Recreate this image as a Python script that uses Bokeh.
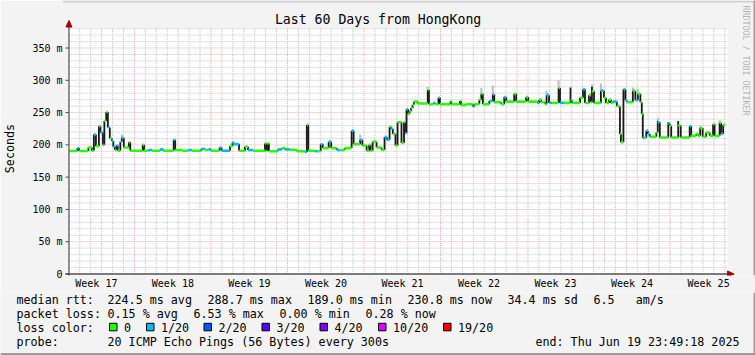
import math
from bokeh.plotting import figure
from bokeh.layouts import column
from bokeh.models import Range1d, FixedTicker, ColumnDataSource
from bokeh.core.properties import value
from bokeh.embed import file_html
from bokeh.resources import INLINE

# ---------------- data ----------------
title_text = "Last 60 Days from HongKong"

# step series: start day of each step (days since start), median rtt (ms), lost pings of 20
day = [
    0.00, 0.73, 0.87, 1.73, 2.05, 2.23, 2.42, 2.69, 2.83, 3.06, 3.19, 3.36, 3.51, 3.69, 3.88, 4.01,
    4.15, 4.29, 4.42, 4.65, 4.79, 4.97, 5.43, 5.56, 6.70, 6.82, 7.21, 7.57, 8.30, 8.57, 9.53, 9.67,
    10.31, 10.85, 11.22, 12.04, 12.40, 12.72, 12.95, 13.73, 13.91, 14.68, 14.91, 15.05, 15.51, 16.05,
    16.33, 16.78, 17.88, 18.01, 18.10, 18.24, 19.06, 19.43, 19.70, 20.16,
    20.80, 21.53, 21.71, 21.84, 22.44, 22.71, 22.98, 23.17, 23.71, 23.94, 24.44, 24.81, 25.17, 25.81,
    25.99, 26.59, 26.79, 27.18, 27.41, 27.54, 27.73, 28.09, 28.55, 28.82, 29.03, 29.28, 29.43, 29.58,
    29.82, 30.01,
    30.37, 30.60, 30.69, 30.83, 30.97, 31.10, 31.24, 31.38, 31.51, 31.83, 32.77, 32.88, 33.29, 33.47,
    33.75, 33.88, 34.84, 34.93, 35.71, 35.80, 36.30, 36.89, 37.03, 37.49, 37.67, 37.81, 38.40, 38.72,
    38.85, 39.49, 39.77, 39.95,
    40.68, 40.86, 41.77, 41.96, 42.78, 42.96, 43.14, 43.51, 43.64, 43.87, 44.14, 44.74, 44.87, 45.24,
    45.83, 45.97, 46.70, 46.97, 47.15, 47.52, 47.70, 47.79, 47.98, 48.61, 48.89, 49.07, 49.34, 49.53,
    49.71,
    50.07, 50.35, 50.44, 50.67, 50.85, 50.99, 51.53, 51.76, 51.99, 52.22, 52.35, 52.44, 52.63, 52.76,
    52.90, 53.08, 53.68, 53.81, 54.00, 54.77, 54.91, 55.04, 55.68, 55.91, 56.73, 56.87, 57.32, 57.51,
    57.69, 57.92, 58.24, 58.56, 58.87, 59.01, 59.47, 59.60, 59.79,
]
median_ms = [
    190.5, 195, 190.5, 196, 191, 216, 198, 229, 219, 200, 237, 251, 227, 210, 206, 197,
    192, 199, 191, 205, 211, 196, 204, 191, 200, 191, 192, 191, 193, 191, 208, 192,
    191, 192, 191, 193.5, 192, 193, 191, 196, 191, 198, 203.5, 201, 191, 197,
    192, 191, 202, 191, 202, 190, 193, 195, 193, 192.5,
    190, 189, 231, 191, 190, 190, 201, 195, 205, 195, 192, 192, 195, 222,
    201, 208, 199, 191, 200, 191, 205, 196, 192, 212, 208, 228, 225, 217,
    199, 235,
    203, 235, 218, 255, 248, 252, 257, 262, 267, 264, 285, 263, 265, 263,
    273, 263, 267, 263, 268, 262, 263, 259.5, 263, 270, 279, 263, 268, 278,
    266, 263, 274, 267,
    279, 267, 274, 267, 265, 270, 266, 263, 277, 265, 265, 288, 265, 265,
    269, 265, 273, 286, 265, 277, 266, 283, 265, 284, 273, 265, 270, 265,
    267,
    260, 217, 204, 286, 269, 266, 284, 269, 279, 266, 248, 211, 211, 222,
    217, 212.5, 219, 235, 211.5, 233, 229.5, 211.5, 230, 211.5, 229, 214, 217, 214,
    226, 212.5, 219, 214, 232, 214, 234, 217, 231,
]
loss20 = [
    0, 1, 0, 0, 0, 1, 0, 0, 1, 1, 0, 0, 1, 0, 1, 1,
    0, 1, 0, 1, 1, 0, 0, 0, 0, 0, 1, 0, 1, 0, 1, 0,
    0, 1, 0, 1, 0, 1, 0, 1, 1, 0, 1, 1, 0, 0,
    1, 0, 0, 0, 0, 0, 1, 0, 1, 0,
    0, 1, 0, 0, 1, 0, 1, 0, 1, 0, 1, 0, 0, 1,
    0, 1, 0, 0, 0, 0, 0, 0, 0, 1, 1, 0, 1, 0,
    0, 0,
    0, 0, 1, 1, 0, 0, 0, 0, 0, 0, 0, 0, 1, 0,
    1, 0, 0, 0, 0, 0, 0, 1, 0, 0, 0, 0, 1, 1,
    0, 0, 1, 0,
    0, 0, 0, 0, 1, 0, 0, 0, 1, 1, 0, 0, 1, 0,
    1, 0, 0, 1, 0, 0, 0, 0, 0, 1, 0, 0, 0, 0,
    1,
    0, 0, 0, 1, 1, 0, 0, 1, 0, 0, 0, 1, 0, 1,
    1, 0, 0, 1, 0, 1, 0, 0, 0, 0, 1, 0, 0, 0,
    0, 0, 0, 0, 0, 0, 0, 1, 0,
]
end_day = 59.97
span_days = 60.2
y_max_ms = 381

# dense ping smoke (dark) and sparse smoke (grey)
smoke_day = [45.83, 47.79, 53.81, 54.77, 55.68]
smoke_lo = [269, 283, 235, 233, 230]
smoke_hi = [289, 290, 237, 235, 237]
haze_day = [3.51, 4.79, 26.59, 32.77, 37.67, 38.72, 43.64, 44.74, 47.79, 48.61, 50.85, 51.53,
            51.99, 53.81, 57.69, 59.47]
haze_lo = [227, 211, 208, 285, 279, 278, 277, 288, 290, 284, 269, 284, 279, 237, 226, 234]
haze_hi = [233, 216, 216, 290, 288, 292, 284, 300, 294, 295, 284, 289, 287, 242, 230, 238]

y_ticks = [0, 50, 100, 150, 200, 250, 300, 350]
y_tick_labels = ["0", "50 m", "100 m", "150 m", "200 m", "250 m", "300 m", "350 m"]
week_labels = ["Week 17", "Week 18", "Week 19", "Week 20", "Week 21", "Week 22", "Week 23",
               "Week 24", "Week 25"]
week_mid = [2.46, 9.46, 16.46, 23.46, 30.46, 37.46, 44.46, 51.46, 58.46]
week_start = [5.94, 12.94, 19.94, 26.94, 33.94, 40.94, 47.94, 54.94]
first_midnight = 0.94

loss_levels = [0, 1, 2, 3, 4, 10, 19]
loss_names = ["0", "1/20", "2/20", "3/20", "4/20", "10/20", "19/20"]
loss_colors = ["#26ff00", "#00b8ff", "#0059ff", "#5e00ff", "#7e00ff", "#dd00ff", "#ff0000"]

rtt_stats = ["224.5 ms avg", "288.7 ms max", "189.0 ms min", "230.8 ms now", "34.4 ms sd",
             "6.5   am/s"]
loss_stats = ["0.15 % avg", "6.53 % max", "0.00 % min", "0.28 % now"]
probe_text = "20 ICMP Echo Pings (56 Bytes) every 300s"
end_text = "end: Thu Jun 19 23:49:18 2025"
watermark = "RRDTOOL / TOBI OETIKER"

# ---------------- layout ----------------
W = 755
TOP_H = 292
MONO = "DejaVu Sans Mono"
BG = "#f3f3f3"
X0_PIX, Y0_PIX = 67.0, 273.5          # canvas pixel of (day 0, 0 ms)
PX_DAY = 10.964
PX_MS = 246.0 / 381.0
FRAME_L, FRAME_B = 60, 275


def dx(X):
    return (X - X0_PIX) / PX_DAY


def dy(Y):
    return (Y0_PIX - Y) / PX_MS


def keep_spaces(s):
    return s.replace(" ", "\u00a0")


p = figure(width=W, height=TOP_H,
           x_range=Range1d(dx(FRAME_L), dx(W)), y_range=Range1d(dy(FRAME_B), dy(0)),
           output_backend="svg", toolbar_location=None, title=None,
           min_border_left=FRAME_L, min_border_right=0, min_border_top=0,
           min_border_bottom=TOP_H - FRAME_B)
p.background_fill_color = BG
p.border_fill_color = BG
p.outline_line_color = None
p.grid.visible = False
p.frame_align = False

# axes (labels only)
xa = p.xaxis[0]
xa.ticker = FixedTicker(ticks=week_mid)
xa.major_label_overrides = {t: s for t, s in zip(week_mid, week_labels)}
xa.major_tick_line_color = None
xa.minor_tick_line_color = None
xa.major_tick_out = 0
xa.major_tick_in = 0
xa.axis_line_color = None
xa.major_label_standoff = 2
ya = p.yaxis[0]
ya.ticker = FixedTicker(ticks=y_ticks)
ya.major_label_overrides = {t: s for t, s in zip(y_ticks, y_tick_labels)}
ya.minor_tick_line_color = None
ya.major_tick_line_color = None
ya.major_tick_out = 0
ya.major_tick_in = 0
ya.axis_line_color = None
ya.major_label_standoff = 0
ya.axis_label = "Seconds\u00a0\u00a0\u00a0"
ya.axis_label_text_font = MONO
ya.axis_label_text_font_size = "11.7px"
ya.axis_label_text_font_style = "normal"
ya.axis_label_text_color = "black"
ya.axis_label_standoff = 12
for ax in (xa, ya):
    ax.major_label_text_font = MONO
    ax.major_label_text_font_size = "10px"
    ax.major_label_text_color = "black"

# plot canvas
p.quad(left=[0], right=[span_days], bottom=[0], top=[y_max_ms], fill_color="white",
       line_color=None)

# grid
day_lines = [first_midnight + i for i in range(60)]
minor_x = [d for d in day_lines if all(abs(d - w) > 1e-6 for w in week_start)]
minor_y = [v for v in range(10, y_max_ms + 1, 10) if v % 50 != 0]
GRID_GREY, GRID_RED = "#c4c4c4", "#efa8a8"
p.segment(x0=minor_x, x1=minor_x, y0=[0] * len(minor_x), y1=[y_max_ms] * len(minor_x),
          line_color=GRID_GREY, line_width=1, line_dash="1 1")
p.segment(x0=[0] * len(minor_y), x1=[span_days] * len(minor_y), y0=minor_y, y1=minor_y,
          line_color=GRID_GREY, line_width=1, line_dash="1 1")
p.segment(x0=week_start, x1=week_start, y0=[0] * len(week_start),
          y1=[y_max_ms] * len(week_start), line_color=GRID_RED, line_width=1, line_dash="1 1")
maj_y = y_ticks[1:]
p.segment(x0=[0] * len(maj_y), x1=[span_days] * len(maj_y), y0=maj_y, y1=maj_y,
          line_color=GRID_RED, line_width=1, line_dash="1 1")

# data glyphs
color_of = dict(zip(loss_levels, loss_colors))
p.segment(x0="x", y0="lo", x1="x", y1="hi", line_color="#bdbdbd", line_width=2,
          source=ColumnDataSource(dict(x=haze_day, lo=haze_lo, hi=haze_hi)))
p.segment(x0="x", y0="lo", x1="x", y1="hi", line_color="#1a1a1a", line_width=1.8,
          source=ColumnDataSource(dict(x=smoke_day, lo=smoke_lo, hi=smoke_hi)))
p.segment(x0="x", y0="y0", x1="x", y1="y1", line_color="#1a1a1a", line_width=1.8,
          source=ColumnDataSource(dict(x=day[1:], y0=median_ms[:-1], y1=median_ms[1:])))
p.segment(x0="x0", y0="y", x1="x1", y1="y", line_color="c", line_width=2.6,
          source=ColumnDataSource(dict(x0=day, x1=day[1:] + [end_day], y=median_ms,
                                       c=[color_of[v] for v in loss20])))

# axis lines, ticks, arrow heads
p.segment(x0=[dx(63)], x1=[dx(727)], y0=[0], y1=[0], line_color="black", line_width=1)
p.segment(x0=[dx(66.5)], x1=[dx(66.5)], y0=[dy(277)], y1=[dy(26)], line_color="#303030",
          line_width=1)
p.segment(x0=[dx(63)] * len(y_ticks), x1=[dx(66.5)] * len(y_ticks), y0=y_ticks, y1=y_ticks,
          line_color="#505050", line_width=1)
p.patch(x=[dx(727), dx(733.5), dx(727)], y=[dy(270.5), dy(273.5), dy(276.5)],
        fill_color="#a00000", line_color="#a00000")
p.patch(x=[dx(63.5), dx(66.5), dx(69.5)], y=[dy(26.5), dy(20), dy(26.5)],
        fill_color="#a00000", line_color="#a00000")

# title and watermark
p.text(x=[dx(376.5)], y=[dy(19)], text=[title_text], text_font=value(MONO),
       text_font_size=value("13.2px"), text_align="center", text_baseline="middle",
       text_color="black")
p.text(x=[dx(745)], y=[dy(60)], text=[keep_spaces(watermark)], text_font=value(MONO),
       text_font_size=value("8.3px"), text_align="center", text_baseline="middle",
       angle=-math.pi / 2, text_color="#b4b4b4")

# frame shading (top / right)
p.quad(left=[dx(0)], right=[dx(W)], bottom=[dy(2)], top=[dy(0)], fill_color="#d0d0d0",
       line_color=None)
p.quad(left=[dx(753)], right=[dx(W)], bottom=[dy(FRAME_B)], top=[dy(0)], fill_color="#9c9c9c",
       line_color=None)

# ---------------- legend strip ----------------
q = figure(width=W, height=355 - TOP_H, x_range=Range1d(0, W), y_range=Range1d(355, TOP_H),
           output_backend="svg", toolbar_location=None, title=None,
           min_border_left=0, min_border_right=0, min_border_top=0, min_border_bottom=0)
q.background_fill_color = BG
q.border_fill_color = BG
q.outline_line_color = None
q.axis.visible = False
q.grid.visible = False
q.frame_align = False

rows_y = [299, 313.3, 327, 341]
tx, ty, tt = [], [], []


def put(X, Y, s):
    tx.append(X)
    ty.append(Y)
    tt.append(keep_spaces(s))


put(16, rows_y[0], "median rtt:")
for X, s in zip([107, 207, 307, 407, 507, 593], rtt_stats):
    put(X, rows_y[0], s)
put(16, rows_y[1], "packet loss:")
for X, s in zip([107, 193, 279, 365], loss_stats):
    put(X, rows_y[1], s)
put(16, rows_y[2], "loss color:")
box_x = [109, 146, 203.5, 261.5, 319.5, 378, 443]
for bx, name in zip(box_x, loss_names):
    put(bx + 14.5, rows_y[2], name)
put(16, rows_y[3], "probe:")
put(107, rows_y[3], probe_text)
q.text(x=tx, y=ty, text=tt, text_font=value(MONO), text_font_size=value("11.7px"),
       text_align="left", text_baseline="middle", text_color="black")
q.text(x=[739], y=[rows_y[3]], text=[keep_spaces(end_text)], text_font=value(MONO),
       text_font_size=value("11.7px"), text_align="right", text_baseline="middle",
       text_color="black")
q.quad(left=box_x, right=[b + 7.5 for b in box_x], top=[322.8] * len(box_x),
       bottom=[330.3] * len(box_x), fill_color=loss_colors, line_color="black", line_width=1)

q.quad(left=[753], right=[W], bottom=[355], top=[TOP_H], fill_color="#9c9c9c", line_color=None)
q.quad(left=[0], right=[W], bottom=[355], top=[352.5], fill_color="#9c9c9c", line_color=None)

layout = column(p, q, spacing=0)
open("out.html", "w").write(file_html(layout, INLINE))
